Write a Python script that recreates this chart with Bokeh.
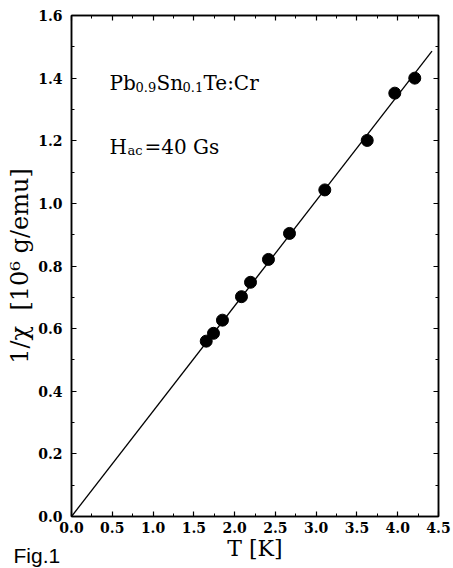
from bokeh.plotting import figure
from bokeh.models import (LinearAxis, Range1d, SingleIntervalTicker, Label,
                          PrintfTickFormatter, CustomJSTickFormatter)
from bokeh.embed import file_html
from bokeh.resources import INLINE

# measured data: temperature T [K] and inverse susceptibility 1/chi [10^6 g/emu]
T = [1.652, 1.741, 1.851, 2.084, 2.195, 2.415, 2.673, 3.106, 3.626, 3.964, 4.209]
inv_chi = [0.560, 0.585, 0.627, 0.702, 0.748, 0.821, 0.904, 1.043, 1.201, 1.352, 1.400]

# Curie-Weiss fit line end points
fit_T = [0.0, 4.42]
fit_inv_chi = [0.0, 1.486]

x_label = "T [K]"
y_label = "1/χ\u00a0\u00a0[10⁶\u00a0g/emu]"

SERIF = "DejaVu Serif"

p = figure(frame_width=367, frame_height=501, output_backend="svg", toolbar_location=None,
           x_range=Range1d(0, 4.5), y_range=Range1d(0, 1.6),
           min_border_left=71, min_border_right=15, min_border_top=15, min_border_bottom=50,
           background_fill_color="white", border_fill_color="white")
p.grid.visible = False
p.outline_line_color = "black"
p.outline_line_width = 1.5

def style_axis(ax, interval, labels=True):
    ax.ticker = SingleIntervalTicker(interval=interval, num_minor_ticks=2)
    ax.axis_line_color = "black"
    ax.axis_line_width = 1.5
    ax.major_tick_in = 5
    ax.major_tick_out = 0
    ax.minor_tick_in = 3
    ax.minor_tick_out = 0
    ax.major_tick_line_width = 1.2
    ax.minor_tick_line_width = 1
    ax.major_label_text_font = SERIF
    ax.major_label_text_font_style = "bold"
    ax.major_label_text_font_size = "14px"
    ax.major_label_text_color = "black"
    if labels:
        ax.formatter = PrintfTickFormatter(format="%.1f")
    else:
        ax.formatter = CustomJSTickFormatter(code="return ''")
        ax.major_label_standoff = 0

style_axis(p.xaxis[0], 0.5)
style_axis(p.yaxis[0], 0.2)
p.xaxis[0].major_label_standoff = 5
p.yaxis[0].major_label_standoff = 9
p.xaxis[0].axis_label = x_label
p.yaxis[0].axis_label = y_label
for ax in (p.xaxis[0], p.yaxis[0]):
    ax.axis_label_text_font = SERIF
    ax.axis_label_text_font_style = "normal"
    ax.axis_label_text_color = "black"
p.xaxis[0].axis_label_text_font_size = "22px"
p.yaxis[0].axis_label_text_font_size = "24px"
p.xaxis[0].axis_label_standoff = 0
p.yaxis[0].axis_label_standoff = 1

right = LinearAxis()
style_axis(right, 0.2, labels=False)
p.add_layout(right, "right")
top = LinearAxis()
style_axis(top, 0.5, labels=False)
p.add_layout(top, "above")

p.line(fit_T, fit_inv_chi, line_color="black", line_width=1.3)
p.scatter(T, inv_chi, marker="circle", size=12, fill_color="black", line_color="black")

def lab(x, y, text, size, dx=0, dy=0, font=SERIF, place=None):
    l = Label(x=x, y=y, text=text, x_offset=dx, y_offset=dy,
              text_font=font, text_font_size=size, text_color="black",
              text_baseline="alphabetic", text_align="left")
    if place is None:
        p.add_layout(l)
    else:
        p.add_layout(l, place)

# sample composition annotation
ax0, ay0 = 0.466, 1.386
lab(ax0, ay0, "Pb", "20px", 0)
lab(ax0, ay0, "0.9", "13px", 26, -4)
lab(ax0, ay0, "Sn", "20px", 47)
lab(ax0, ay0, "0.1", "13px", 73, -4)
lab(ax0, ay0, "Te:Cr", "20px", 94)

# field annotation
bx0, by0 = 0.466, 1.181
lab(bx0, by0, "H", "20px", 0)
lab(bx0, by0, "ac", "13px", 18, -4)
lab(bx0, by0, "=40 Gs", "20px", 35)

lab(-0.711, -0.125, "Fig.1", "21px", font="Liberation Sans", place="below")

open("out.html", "w").write(file_html(p, INLINE))
